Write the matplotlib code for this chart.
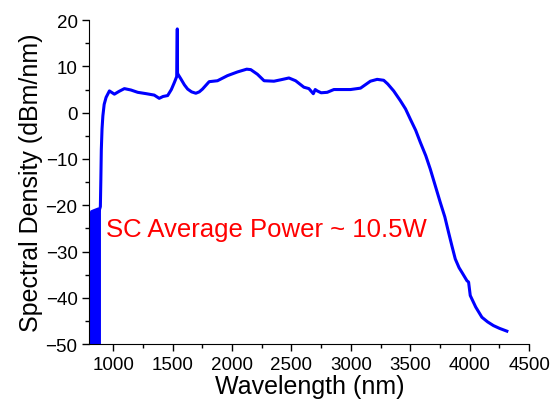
import matplotlib
matplotlib.use("Agg")
import matplotlib.pyplot as plt
from matplotlib.ticker import MultipleLocator

plt.rcParams['font.family'] = ['Liberation Sans', 'DejaVu Sans']

# supercontinuum spectrum
wavelength = [885, 893, 897, 901, 907, 914, 925, 941, 969, 1011, 1050, 1095, 1150, 1207, 1280,
              1346, 1388, 1420, 1459, 1490, 1515, 1535, 1540, 1542, 1546, 1570, 1600, 1627,
              1660, 1696, 1725, 1752, 1808, 1878, 1962, 2046, 2124, 2158, 2214, 2270, 2353,
              2409, 2479, 2535, 2605, 2647, 2684, 2700, 2717, 2750, 2801, 2857, 2997, 3081,
              3164, 3221, 3276, 3310, 3360, 3416, 3460, 3500, 3545, 3584, 3630, 3668, 3710,
              3752, 3790, 3822, 3850, 3878, 3910, 3934, 3976, 3990, 4004, 4050, 4102, 4150,
              4199, 4250, 4312]
density = [-21.0, -20.3, -14.5, -8.0, -3.5, -0.7, 1.8, 3.3, 4.7, 4.0, 4.6, 5.2, 4.9, 4.4, 4.1,
           3.8, 3.1, 3.5, 3.7, 5.0, 6.5, 7.8, 18.1, 8.6, 8.3, 7.3, 6.0, 5.1,
           4.5, 4.2, 4.5, 5.1, 6.7, 6.9, 8.0, 8.8, 9.4, 9.3, 8.3, 6.9, 6.8,
           7.1, 7.5, 6.9, 5.5, 5.2, 4.1, 5.0, 4.7, 4.3, 4.4, 5.0, 5.0, 5.3,
           6.8, 7.2, 7.0, 6.2, 4.7, 2.6, 0.8, -1.4, -3.8, -6.4, -9.3, -12.2, -15.8,
           -19.4, -22.5, -25.9, -28.8, -31.6, -33.5, -34.5, -36.3, -36.6, -39.5, -42.0, -44.2, -45.2,
           -46.0, -46.6, -47.2]

# noisy low-wavelength part, drawn as a solid block
noise_x = [800, 805, 812, 830, 850, 870, 885]
noise_top = [-24.0, -22.0, -21.2, -21.0, -20.8, -20.6, -21.0]

x_ticks = [1000, 1500, 2000, 2500, 3000, 3500, 4000, 4500]
y_ticks = [-50, -40, -30, -20, -10, 0, 10, 20]

fig = plt.figure(figsize=(5.53, 4.06), dpi=100)
ax = fig.add_axes([0.1615, 0.150, 0.7955, 0.798])

ax.fill_between(noise_x, -50, noise_top, color='#0000ff', linewidth=1.5, edgecolor='#0000ff')
ax.plot(wavelength, density, color='#0000ff', linewidth=2.2, solid_joinstyle='round')

ax.set_xlim(800, 4500)
ax.set_ylim(-50, 20)
ax.set_xticks(x_ticks)
ax.set_yticks(y_ticks)
ax.xaxis.set_minor_locator(MultipleLocator(250))
ax.yaxis.set_minor_locator(MultipleLocator(5))
ax.tick_params(which='major', direction='out', length=5, width=1, labelsize=13.5)
ax.tick_params(which='minor', direction='out', length=3, width=1)

for side in ['top', 'right']:
    ax.spines[side].set_visible(False)

ax.set_xlabel("Wavelength (nm)", fontsize=18, labelpad=1)
ax.set_ylabel("Spectral Density (dBm/nm)", fontsize=18, labelpad=2)

ax.text(941, -25.1, "SC Average Power ~ 10.5W", color='red', fontsize=18.5, va='center', ha='left')

fig.savefig("out.png", dpi=100)
